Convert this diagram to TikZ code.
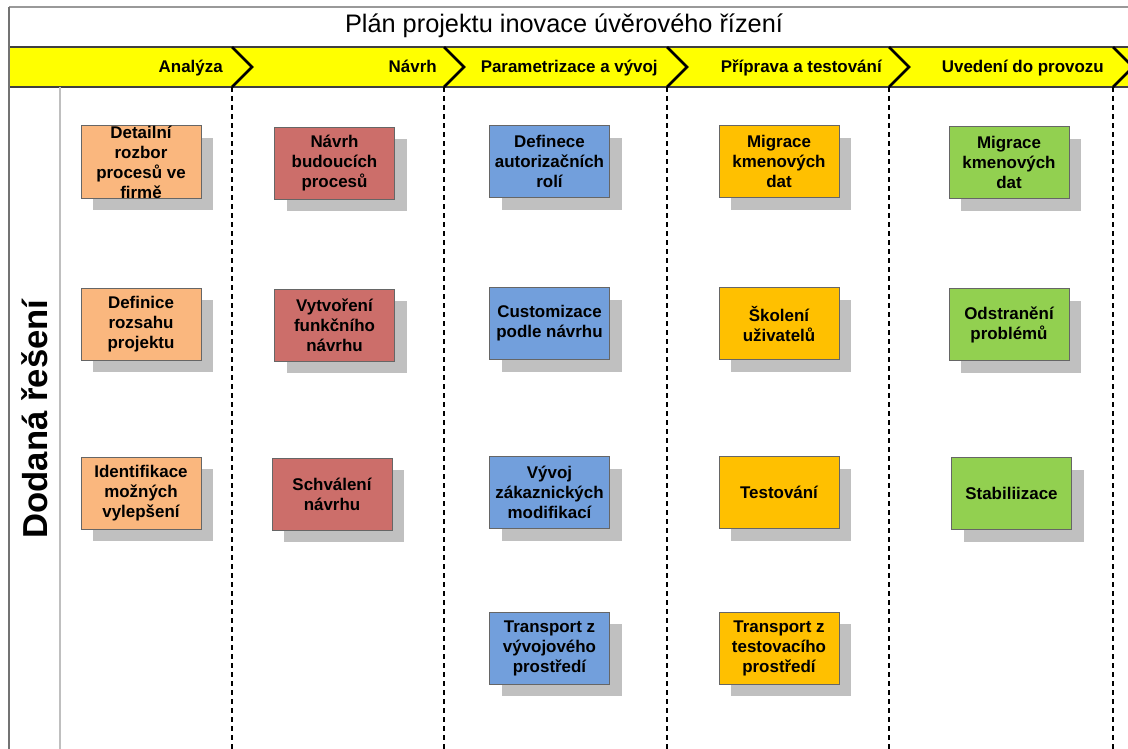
\documentclass[tikz,border=0pt]{standalone}
\usepackage{fontspec}
\setmainfont{Liberation Sans}
\usetikzlibrary{shadows}

\definecolor{analyza}{RGB}{250,183,126}
\definecolor{navrh}{RGB}{204,110,106}
\definecolor{param}{RGB}{114,159,220}
\definecolor{priprava}{RGB}{255,192,0}
\definecolor{uvedeni}{RGB}{146,208,80}
\definecolor{stin}{RGB}{192,192,192}
\definecolor{pruh}{RGB}{255,255,0}

\begin{document}
\begin{tikzpicture}[x=0.75pt, y=-0.75pt,
        task/.style={draw=black!60, line width=0.6pt, minimum width=90pt, minimum height=54pt,
            inner xsep=2pt, inner ysep=0pt, align=center,
            font=\fontsize{12.7}{15}\selectfont\bfseries,
            drop shadow={shadow xshift=9pt, shadow yshift=-9pt, fill=stin, opacity=1}},
        phase/.style={anchor=base east, inner sep=0pt, font=\fontsize{12.7}{14}\selectfont\bfseries},
        divider/.style={line width=2.2pt, dash pattern=on 3.5pt off 3.25pt}]
        \useasboundingbox (0,0) rectangle (1128,749);

        % --- 1. Frame, Title and Phase Band ---
        \fill[pruh] (9,47) rectangle (1128,87);
        \draw[black!40, line width=1.2pt] (9,7) -- (1128,7);
        \draw[black!75, line width=0.8pt] (9,47) -- (1128,47) (9,87) -- (1128,87);
        \draw[black!55, line width=1.2pt] (9,7) -- (9,749);
        \draw[black!25, line width=1.5pt] (60,87) -- (60,749);
        \node[font=\fontsize{19}{22}\selectfont] (title) at (564,26) {Plán projektu inovace úvěrového řízení};

        % Chevrons and phase dividers
        \foreach \x in {232, 444, 667, 889, 1113} {
            \draw[line width=2pt, line join=miter] (\x,47) -- (\x+20,67) -- (\x,87);
            \draw[divider] (\x,87) -- (\x,749);
        }
        \node[phase] (ph1) at (223,73) {Analýza};
        \node[phase] (ph2) at (437,73) {Návrh};
        \node[phase] (ph3) at (658,73) {Parametrizace a vývoj};
        \node[phase] (ph4) at (882,73) {Příprava a testování};
        \node[phase] (ph5) at (1104,73) {Uvedení do provozu};

        % Row label
        \node[rotate=90, font=\fontsize{26}{28}\selectfont\bfseries] (row) at (35,419) {Dodaná řešení};

        % --- 2. Analýza (Orange) ---
        \node[task, fill=analyza] (a1) at (141,162) {Detailní\\rozbor\\procesů ve\\firmě};
        \node[task, fill=analyza] (a2) at (141,324) {Definice\\rozsahu\\projektu};
        \node[task, fill=analyza] (a3) at (141,493) {Identifikace\\možných\\vylepšení};

        % --- 3. Návrh (Red) ---
        \node[task, fill=navrh] (n1) at (334.5,163) {Návrh\\budoucích\\procesů};
        \node[task, fill=navrh] (n2) at (334.5,325) {Vytvoření\\funkčního\\návrhu};
        \node[task, fill=navrh] (n3) at (332,494) {Schválení\\návrhu};

        % --- 4. Parametrizace (Blue) ---
        \node[task, fill=param] (p1) at (549.5,161.5) {Definece\\autorizačních\\rolí};
        \node[task, fill=param] (p2) at (549.5,323.5) {Customizace\\podle návrhu};
        \node[task, fill=param] (p3) at (549.5,492.5) {Vývoj\\zákaznických\\modifikací};
        \node[task, fill=param] (p4) at (549.5,648) {Transport z\\vývojového\\prostředí};

        % --- 5. Příprava a testování (Gold) ---
        \node[task, fill=priprava] (t1) at (779,161.5) {Migrace\\kmenových\\dat};
        \node[task, fill=priprava] (t2) at (779,323.5) {Školení\\uživatelů};
        \node[task, fill=priprava] (t3) at (779,492.5) {Testování};
        \node[task, fill=priprava] (t4) at (779,648) {Transport z\\testovacího\\prostředí};

        % --- 6. Uvedení do provozu (Green) ---
        \node[task, fill=uvedeni] (u1) at (1009,162.5) {Migrace\\kmenových\\dat};
        \node[task, fill=uvedeni] (u2) at (1009,324.5) {Odstranění\\problémů};
        \node[task, fill=uvedeni] (u3) at (1011.5,493.5) {Stabiliizace};

    \end{tikzpicture}
\end{document}
